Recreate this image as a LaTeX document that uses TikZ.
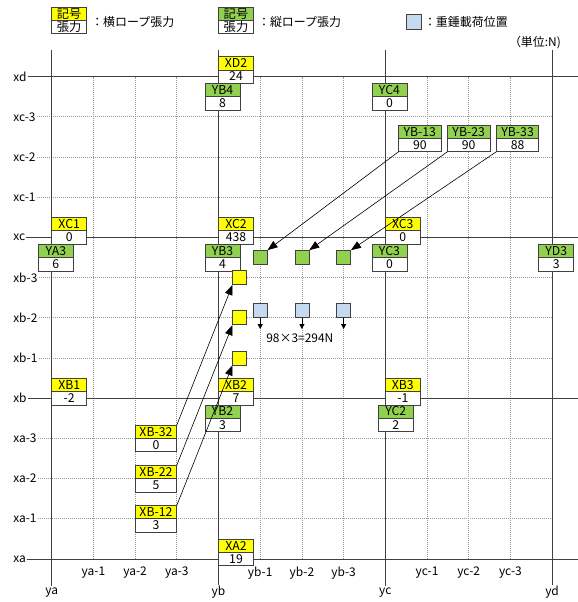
\documentclass[tikz,border=0pt]{standalone}
\usepackage{fontspec}
\setmainfont{Noto Sans CJK JP}
\usetikzlibrary{arrows.meta,positioning}
\definecolor{ropeyellow}{RGB}{255,255,0}
\definecolor{ropegreen}{RGB}{146,208,80}
\definecolor{loadblue}{RGB}{197,217,241}
\definecolor{framegray}{RGB}{64,64,64}
\tikzstyle{mainline}=[draw=framegray,line width=0.9bp]
\tikzstyle{subline}=[draw=gray!80,line width=0.7bp,dash pattern=on 1bp off 1bp]
\tikzstyle{lbl}=[inner sep=1bp,font=\fontsize{12}{14}\selectfont]
\tikzstyle{tag}=[draw=framegray,line width=0.7bp,minimum width=35bp,minimum height=13.4bp,inner sep=0pt,outer sep=0pt,text height=8.8bp,text depth=0pt,font=\fontsize{12.3}{13}\selectfont]
\tikzstyle{xtag}=[tag,fill=ropeyellow]
\tikzstyle{ytag}=[tag,fill=ropegreen]
\tikzstyle{val}=[tag,fill=white]
\tikzstyle{sq}=[draw=framegray,line width=0.7bp,minimum size=14bp,inner sep=0pt]
\tikzstyle{arr}=[-{Triangle[length=10bp,width=7.5bp]},draw,line width=0.6bp]
\tikzstyle{darr}=[-{Triangle[length=5bp,width=5bp]},draw,line width=0.8bp]

\begin{document}
\begin{tikzpicture}[x=41.7bp,y=40.2bp]
  \useasboundingbox (-51.7bp,-43bp) rectangle (526.3bp,559bp);
  % grid
  \foreach \r/\t in {1/xa-1,2/xa-2,3/xa-3,5/xb-1,6/xb-2,7/xb-3,9/xc-1,10/xc-2,11/xc-3}{
    \node[lbl,anchor=west] (h\r) at (-0.95,\r) {\t};
    \draw[subline] (h\r) -- (12,\r);
  }
  \foreach \c/\t in {1/ya-1,2/ya-2,3/ya-3,5/yb-1,6/yb-2,7/yb-3,9/yc-1,10/yc-2,11/yc-3}{
    \node[lbl] (v\c) at (\c,-0.34) {\t};
    \draw[subline] (\c,0) -- (\c,12);
  }
  \foreach \r/\t in {0/xa,4/xb,8/xc,12/xd}{
    \node[lbl,anchor=west] (h\r) at (-0.95,\r) {\t};
    \draw[mainline] (h\r) -- (12.62,\r);
  }
  \foreach \c/\t in {0/ya,4/yb,8/yc,12/yd}{
    \node[lbl] (v\c) at (\c,-0.83) {\t};
    \draw[mainline] (v\c) -- (\c,12.66);
  }

  % legend
  \node[val,anchor=west] (lgxv) at (0,13.23) {張力};
  \node[xtag,above=0pt of lgxv] (lgx) {記号};
  \node[lbl,anchor=west] (lgxt) at (0.92,13.37) {：横ロープ張力};
  \node[val,anchor=west] (lgyv) at (4,13.23) {張力};
  \node[ytag,above=0pt of lgyv] (lgy) {記号};
  \node[lbl,anchor=west] (lgyt) at (4.92,13.37) {：縦ロープ張力};
  \node[sq,fill=loadblue,minimum size=15bp] (lgb) at (8.68,13.37) {};
  \node[lbl,anchor=west] (lgbt) at (8.9,13.37) {：重錘載荷位置};
  \node[lbl,anchor=east] (unit) at (12.24,12.84) {（単位:N)};

  % horizontal rope tensions
  \foreach \nm/\v/\c/\r in {XD2/24/4/12,XC1/0/0/8,XC2/438/4/8,XC3/0/8/8,XB1/-2/0/4,XB2/7/4/4,XB3/-1/8/4,XA2/19/4/0}{
    \node[val,anchor=west] (\nm v) at (\c,\r) {\v};
    \node[xtag,above=0pt of \nm v] (\nm) {\nm};
  }
  % vertical rope tensions
  \foreach \nm/\v/\c/\r/\dx in {YB4/8/4/12/13.4bp,YC4/0/8/12/13.4bp,YA3/6/0/8/13.4bp,YB3/4/4/8/13.4bp,YC3/0/8/8/13.4bp,YD3/3/12/8/13.4bp,YB2/3/4/4/13.4bp,YC2/2/8/4/7bp}{
    \node[ytag,anchor=north west] (\nm) at ([xshift=-\dx,yshift=-6.7bp]\c,\r) {\nm};
    \node[val,below=0pt of \nm] (\nm v) {\v};
  }
  \foreach \nm/\t/\v/\r in {XB32/XB-32/0/3,XB22/XB-22/5/2,XB12/XB-12/3/1}{
    \node[xtag,minimum width=41.7bp,anchor=south west] (\nm) at (2,\r) {\t};
    \node[val,minimum width=41.7bp,below=0pt of \nm] (\nm v) {\v};
  }
  \node[ytag,minimum width=42.4bp,anchor=south] (YB23) at (10,10.465) {YB-23};
  \node[ytag,minimum width=42.4bp,left=6.5bp of YB23] (YB13) {YB-13};
  \node[ytag,minimum width=42.4bp,right=6.5bp of YB23] (YB33) {YB-33};
  \node[val,minimum width=42.4bp,below=0pt of YB13] (YB13v) {90};
  \node[val,minimum width=42.4bp,below=0pt of YB23] (YB23v) {90};
  \node[val,minimum width=42.4bp,below=0pt of YB33] (YB33v) {88};

  % points
  \foreach \r in {5,6,7}
    \node[sq,fill=ropeyellow] (ys\r) at (4.51,\r) {};
  \foreach \c in {5,6,7}{
    \node[sq,fill=ropegreen] (gs\c) at (\c,7.5) {};
    \node[sq,fill=loadblue,anchor=south] (bs\c) at (\c,6) {};
    \coordinate (bt\c) at (\c,5.72);
    \draw[darr] (bs\c.south) -- (bt\c);
  }
  \node[lbl] (load) at (5.95,5.5) {98×3=294N};

  % arrows
  \draw[arr] (YB13v.south west) -- (gs5.north east);
  \draw[arr] (YB23v.south west) -- (gs6.north east);
  \draw[arr] (YB33v.south west) -- (gs7.north east);
  \draw[arr] (XB32.north east) -- (ys7.south west);
  \draw[arr] (XB22.north east) -- (ys6.south west);
  \draw[arr] (XB12.north east) -- (ys5.south west);
\end{tikzpicture}
\end{document}
